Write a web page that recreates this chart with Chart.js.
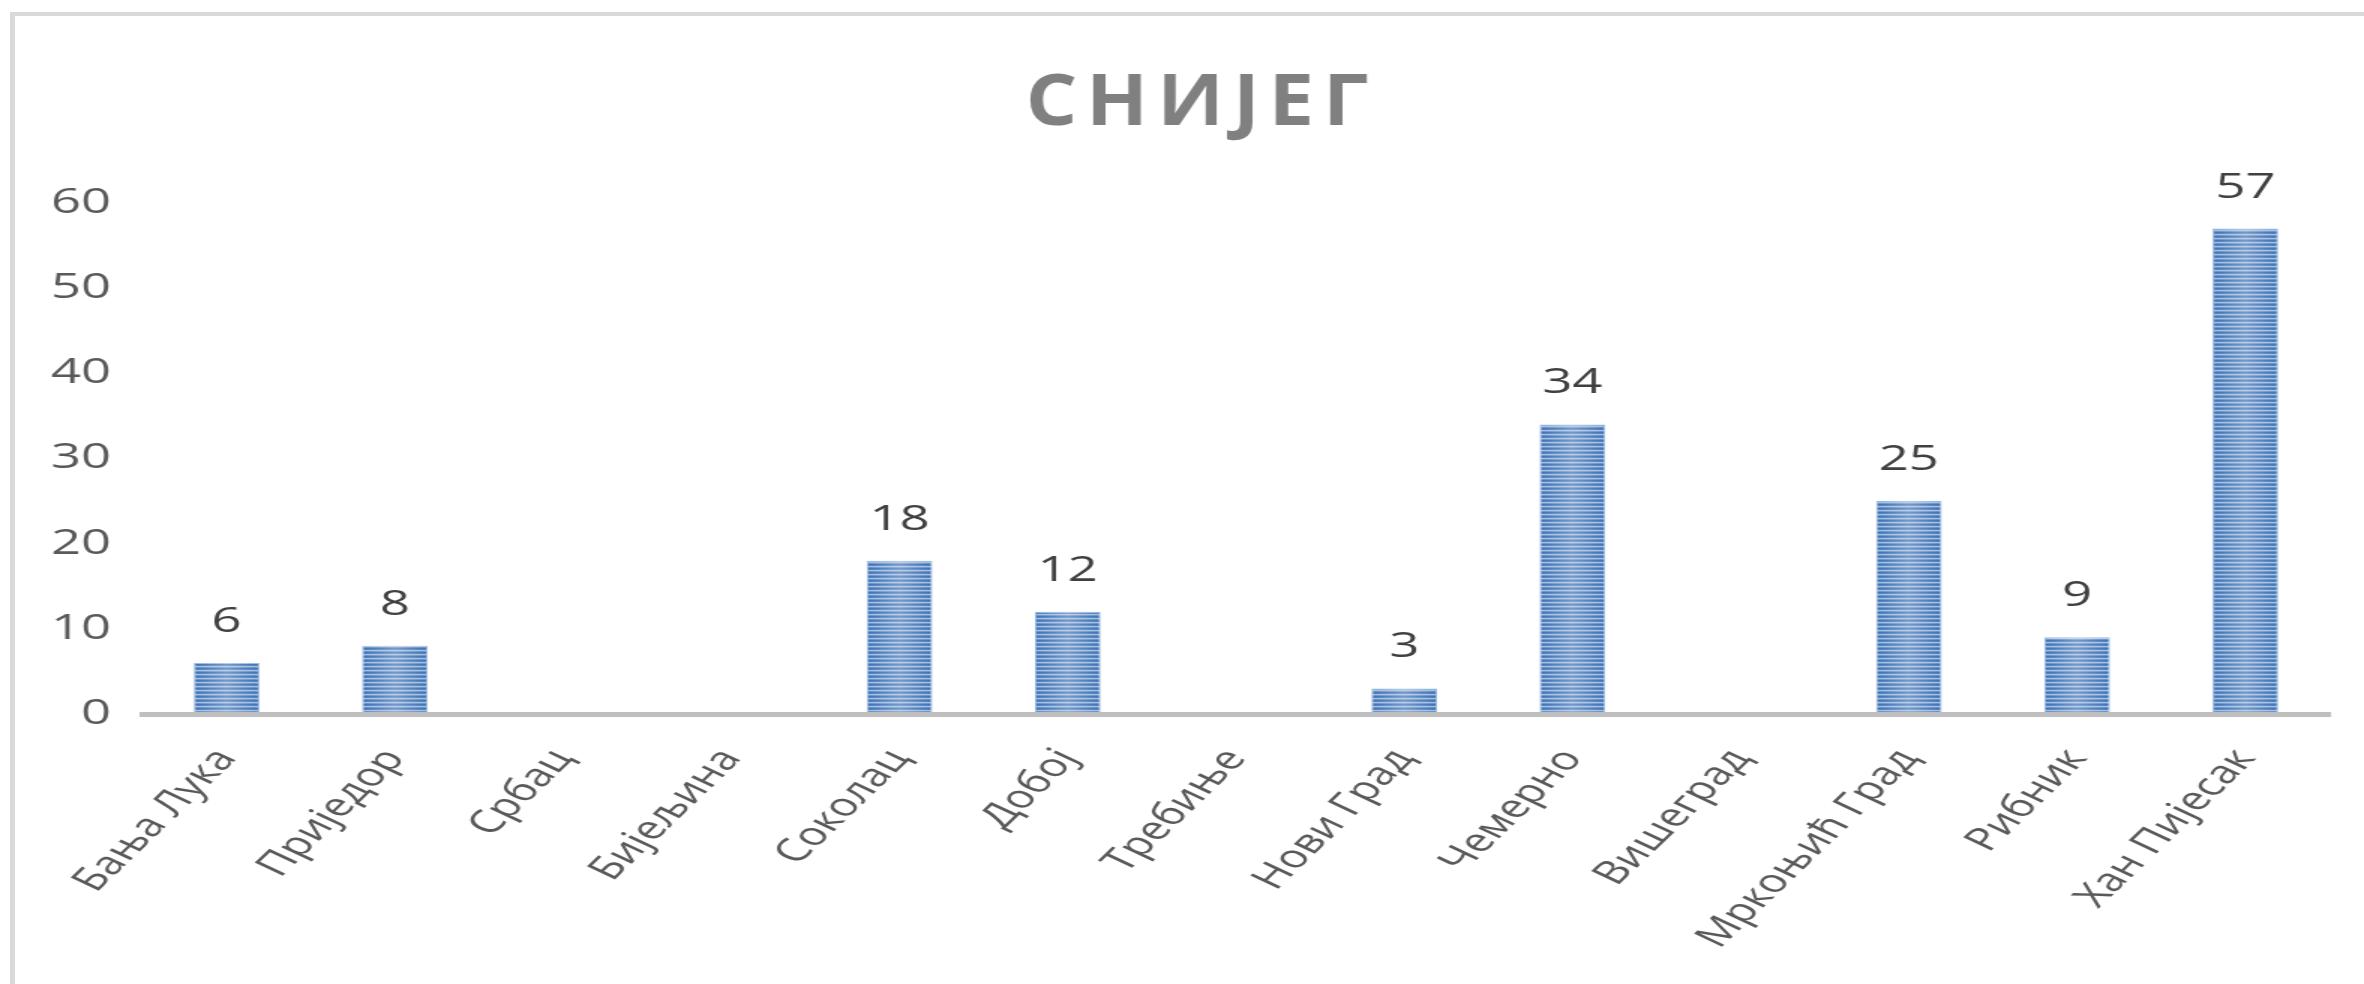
<!DOCTYPE html>
<html>
<head>
<meta charset="utf-8">
<title>СНИЈЕГ</title>
<script src="https://cdn.jsdelivr.net/npm/chart.js@4.4.1/dist/chart.umd.min.js"></script>
<style>
  html, body { margin: 0; padding: 0; background: #fff; overflow: hidden; }
  #wrap { position: relative; width: 2364px; height: 984px; }
  /* chart is drawn narrower and stretched sideways, like the pasted picture */
  #snowChart { position: absolute; left: 0; top: 0; width: 2364px; height: 984px; }
  #frame {
    position: absolute; left: 10px; top: 12px; width: 2400px; height: 1000px;
    border-left: 5px solid #d9d9d9; border-top: 4px solid #d9d9d9;
    pointer-events: none;
  }
</style>
</head>
<body>
<div id="wrap">
  <canvas id="snowChart" width="1576" height="984" style="width:2364px;height:984px"></canvas>
  <div id="frame"></div>
</div>
<script>
// Chart data
const TITLE = 'СНИЈЕГ';
const stations = ['Бања Лука', 'Приједор', 'Србац', 'Бијељина', 'Соколац', 'Добој', 'Требиње',
  'Нови Град', 'Чемерно', 'Вишеград', 'Мркоњић Град', 'Рибник', 'Хан Пијесак'];
const snow = [6, 8, null, null, 18, 12, null, 3, 34, null, 25, 9, 57];
const yTicks = [0, 10, 20, 30, 40, 50, 60];

Chart.defaults.font.family = '"Open Sans", "Noto Sans", sans-serif';

// striped fill for the bars
function makeStripes() {
  const c = document.createElement('canvas');
  c.width = 4;
  c.height = 4;
  const g = c.getContext('2d');
  const rows = ['#3a6fb3', '#4f81bd', '#9fbbe0', '#6890c8'];
  rows.forEach((col, i) => {
    g.fillStyle = col;
    g.fillRect(0, i, 4, 1);
  });
  return g.createPattern(c, 'repeat');
}

// lighter band down the middle of each bar
const barShine = {
  id: 'barShine',
  afterDatasetsDraw(chart) {
    const ctx = chart.ctx;
    chart.getDatasetMeta(0).data.forEach((bar, i) => {
      if (snow[i] == null) return;
      const {x, y, base, width} = bar.getProps(['x', 'y', 'base', 'width'], true);
      const grad = ctx.createLinearGradient(x - width / 2, 0, x + width / 2, 0);
      grad.addColorStop(0, 'rgba(255,255,255,0)');
      grad.addColorStop(0.5, 'rgba(255,255,255,0.3)');
      grad.addColorStop(1, 'rgba(255,255,255,0)');
      ctx.save();
      ctx.fillStyle = grad;
      ctx.fillRect(x - width / 2, y, width, base - y);
      ctx.restore();
    });
  }
};

// value labels above bars
const valueLabels = {
  id: 'valueLabels',
  afterDatasetsDraw(chart) {
    const ctx = chart.ctx;
    ctx.save();
    ctx.font = '35px "Open Sans", "Noto Sans", sans-serif';
    ctx.fillStyle = '#404040';
    ctx.textAlign = 'center';
    ctx.textBaseline = 'alphabetic';
    chart.getDatasetMeta(0).data.forEach((bar, i) => {
      if (snow[i] == null) return;
      ctx.fillText(String(snow[i]), bar.x, bar.y - 31);
    });
    ctx.restore();
  }
};

// spaced-out title
const spacedTitle = {
  id: 'spacedTitle',
  afterDraw(chart) {
    const ctx = chart.ctx;
    ctx.save();
    ctx.font = 'bold 72px "Open Sans", "Noto Sans", sans-serif';
    ctx.fillStyle = '#808080';
    ctx.textAlign = 'center';
    ctx.textBaseline = 'alphabetic';
    ctx.letterSpacing = '8px';
    ctx.translate(801, 125);
    ctx.scale(0.75, 1);
    ctx.fillText(TITLE, 0, 0);
    ctx.restore();
  }
};

const ctx = document.getElementById('snowChart');
new Chart(ctx, {
  type: 'bar',
  data: {
    labels: stations,
    datasets: [{
      label: TITLE,
      data: snow,
      backgroundColor: makeStripes(),
      borderColor: 'rgba(140,175,220,0.9)',
      borderWidth: 1,
      categoryPercentage: 1,
      barPercentage: 0.39
    }]
  },
  options: {
    responsive: false,
    devicePixelRatio: 1,
    animation: false,
    layout: {
      padding: { top: 203, right: 23, bottom: 0, left: 0 }
    },
    plugins: {
      legend: { display: false },
      title: { display: false },
      tooltip: { enabled: false }
    },
    scales: {
      x: {
        grid: { display: false, drawTicks: false },
        border: { display: true, color: '#bfbfbf', width: 5, z: 1 },
        ticks: {
          color: '#595959',
          font: { size: 32 },
          minRotation: 55,
          maxRotation: 55,
          autoSkip: false,
          padding: 28
        },
        afterFit(scale) {
          scale.height = 270;
          scale.paddingLeft = 0;
          scale.paddingRight = 0;
        }
      },
      y: {
        min: 0,
        max: 60,
        grid: { display: false, drawTicks: false },
        border: { display: false },
        afterBuildTicks(scale) {
          scale.ticks = yTicks.map(v => ({ value: v }));
        },
        ticks: {
          color: '#595959',
          font: { size: 35 },
          padding: 21
        },
        afterFit(scale) { scale.width = 95; }
      }
    }
  },
  plugins: [barShine, valueLabels, spacedTitle]
});
</script>
</body>
</html>
